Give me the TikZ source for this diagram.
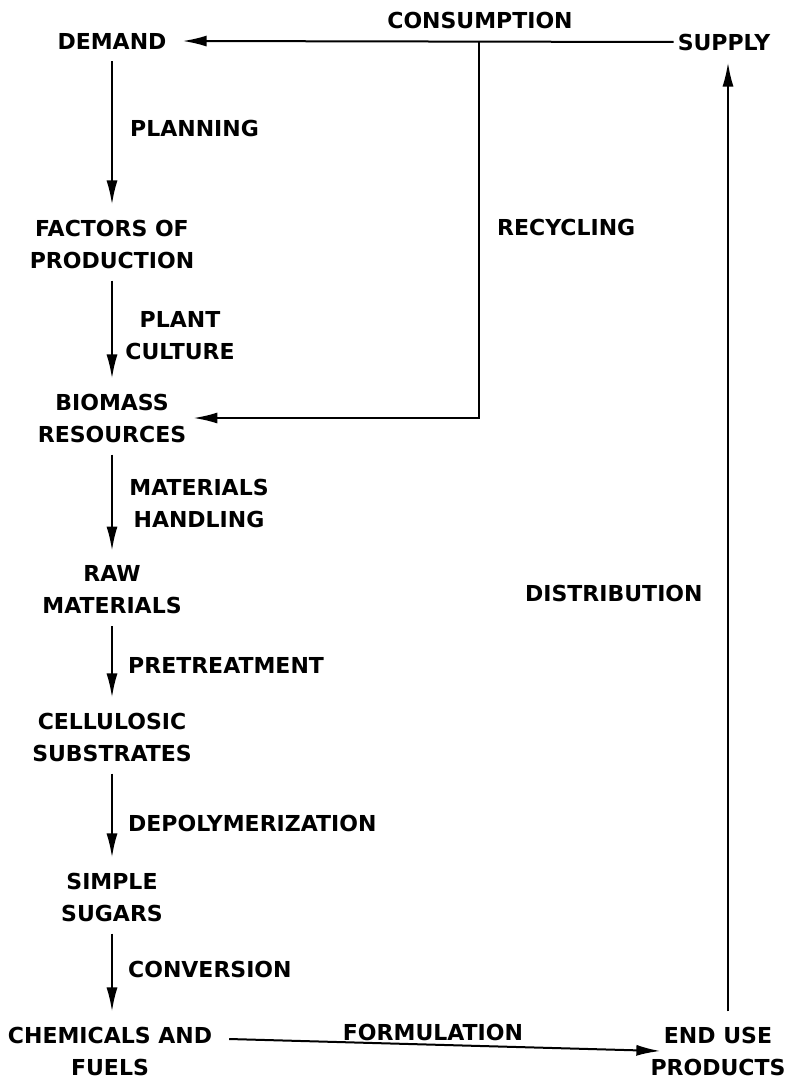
\documentclass[tikz,border=0pt]{standalone}
\usepackage{fontspec}
\setmainfont{DejaVu Sans}
\usetikzlibrary{arrows.meta}

\begin{document}
\begin{tikzpicture}[x=1pt,y=-1pt,
	stage/.style={font=\bfseries\fontsize{22}{32}\selectfont,align=center,inner sep=0pt},
	flow/.style={line width=2pt,-{Latex[length=24pt,width=11pt]}},
	down/.style={flow,shorten <=12pt,shorten >=15pt}]
	\useasboundingbox (0,0) rectangle (797,1081);
	% stages of the chain
	\node[stage] (demand) at (112,41) {DEMAND};
	\node[stage] (supply) at (724,42) {SUPPLY};
	\node[stage] (factors) at (112,244) {FACTORS OF\\PRODUCTION};
	\node[stage] (biomass) at (112,418) {BIOMASS\\RESOURCES};
	\node[stage] (raw) at (112,590) {RAW\\MATERIALS};
	\node[stage] (cellulosic) at (112,737) {CELLULOSIC\\SUBSTRATES};
	\node[stage] (sugars) at (112,897) {SIMPLE\\SUGARS};
	\node[stage] (chemicals) at (110,1051) {CHEMICALS AND\\FUELS};
	\node[stage] (enduse) at (718,1051) {END USE\\PRODUCTS};
	% processes
	\node[stage] (consumption) at (480,20) {CONSUMPTION};
	\node[stage,anchor=west] (planning) at (130,128) {PLANNING};
	\node[stage] (culture) at (180,336) {PLANT\\CULTURE};
	\node[stage] (handling) at (199,503) {MATERIALS\\HANDLING};
	\node[stage,anchor=west] (pretreat) at (128,665) {PRETREATMENT};
	\node[stage,anchor=west] (depoly) at (128,823) {DEPOLYMERIZATION};
	\node[stage,anchor=west] (conversion) at (128,969) {CONVERSION};
	\node[stage] (formulation) at (433,1032) {FORMULATION};
	\node[stage,anchor=west] (recycling) at (497,227) {RECYCLING};
	\node[stage,anchor=west] (distribution) at (525,593) {DISTRIBUTION};
	% connectors
	\coordinate (recyc) at (479,41);
	\draw[flow] ([xshift=-4pt]supply.west) -- ([xshift=16pt]demand.east);
	\draw[flow] (recyc) |- ([xshift=7pt]biomass.east);
	\draw[down] (demand.south) -- (factors.north);
	\draw[down] (factors.south) -- (biomass.north);
	\draw[down] (biomass.south) -- (raw.north);
	\draw[down] (raw.south) -- (cellulosic.north);
	\draw[down] (cellulosic.south) -- (sugars.north);
	\draw[down] (sugars.south) -- (sugars.south |- chemicals.north);
	\draw[flow] ([xshift=17pt,yshift=12pt]chemicals.east) -- ([xshift=10pt]enduse.west);
	\draw[flow,shorten >=12pt] ([xshift=10pt,yshift=15pt]enduse.north) coordinate (up) -- (up |- supply.south);
\end{tikzpicture}
\end{document}
